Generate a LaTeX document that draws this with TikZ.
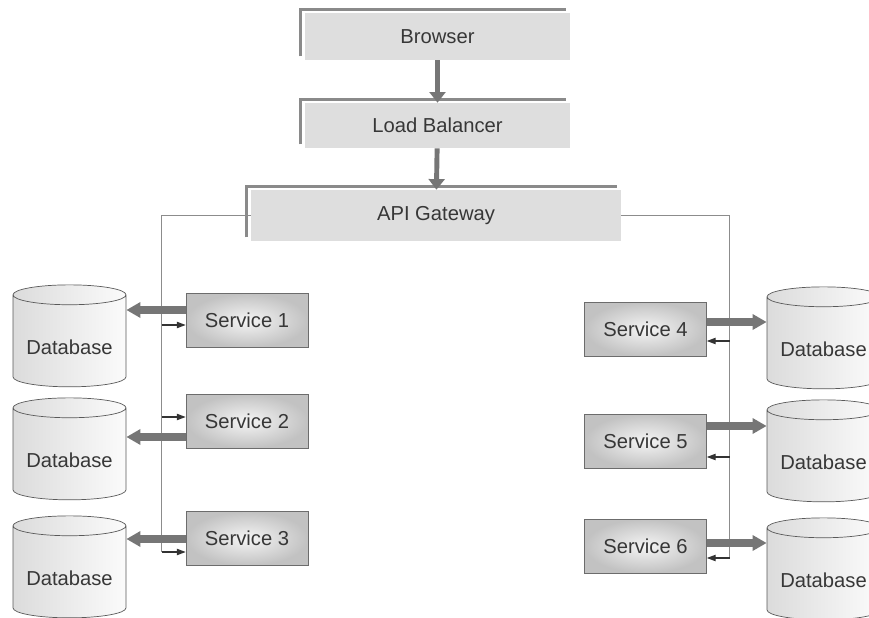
\documentclass[tikz,border=0pt]{standalone}
\usepackage{fontspec}
\setmainfont{Liberation Sans}
\usetikzlibrary{arrows.meta,positioning,shapes.geometric,calc}
\definecolor{panelgray}{RGB}{222,222,222}
\definecolor{rimgray}{RGB}{138,138,138}
\definecolor{pipegray}{RGB}{118,118,118}
\definecolor{inkgray}{RGB}{55,55,55}

\begin{document}
\begin{tikzpicture}[x=0.02cm, y=-0.02cm, font=\fontsize{11.5}{13}\selectfont, text=inkgray,
      panel/.style={fill=panelgray, inner sep=0pt},
      svc/.style={draw=gray!85!black, inner color=gray!8, outer color=gray!48,
                  minimum width=2.44cm, minimum height=1.08cm, inner sep=0pt},
      db/.style={cylinder, shape border rotate=90, aspect=0.23, draw=gray!70!black,
                 left color=gray!28, right color=gray!3, minimum width=2.26cm,
                 minimum height=2.04cm, inner sep=0pt, text height=0.53cm, text depth=0pt},
      down/.style={-{Triangle[length=6pt,width=9pt]}, line width=2.8pt, pipegray},
      fat/.style={-{Triangle[length=8pt,width=8.5pt]}, line width=4pt, pipegray},
      bus/.style={gray!90, line width=0.7pt},
      tap/.style={-{Triangle[length=5pt,width=3.6pt]}, line width=0.6pt, black!80},
      rim/.style={rimgray, line width=1.8pt}]
    \useasboundingbox (0,0) rectangle (869,618);
    \clip (0,0) rectangle (869,618);
    % top chain
    \node[panel, minimum width=5.3cm, minimum height=0.94cm] (browser) at (437.5, 36.5) {Browser};
    \node[panel, minimum width=5.3cm, minimum height=0.9cm] (lb) at (437.5, 125.5) {Load Balancer};
    \node[panel, minimum width=7.4cm, minimum height=1.02cm] (api) at (436, 215.5) {API Gateway};
    \foreach \n in {browser, lb, api}
      \draw[rim] ($(\n.south west)+(-4,-4)$) |- ($(\n.north east)+(-4,-3)$);
    \draw[down] (browser) -- (lb);
    \draw[down] (lb) -- (api);
    % services
    \node[svc] (s1) at (247, 320.5) {Service 1};
    \node[svc] (s2) at (247, 421) {Service 2};
    \node[svc] (s3) at (247, 538.5) {Service 3};
    \node[svc] (s4) at (645.5, 329) {Service 4};
    \node[svc] (s5) at (645.5, 441) {Service 5};
    \node[svc] (s6) at (645.5, 546) {Service 6};
    % databases
    \node[db] (db1) at (69.5, 341) {Database};
    \node[db] (db2) at (69.5, 454) {Database};
    \node[db] (db3) at (69.5, 572) {Database};
    \node[db] (db4) at (823.5, 343) {Database};
    \node[db] (db5) at (823.5, 456) {Database};
    \node[db] (db6) at (823.5, 574) {Database};
    % tap and write points on the service boxes
    \coordinate (t1) at ($(s1.west)+(0,4.5)$);
    \coordinate (t2) at ($(s2.west)+(0,-4)$);
    \coordinate (t3) at ($(s3.west)+(0,13.5)$);
    \coordinate (t4) at ($(s4.east)+(0,12)$);
    \coordinate (t5) at ($(s5.east)+(0,16)$);
    \coordinate (t6) at ($(s6.east)+(0,12)$);
    \coordinate (w1) at ($(s1.west)+(0,-10.5)$);
    \coordinate (w2) at ($(s2.west)+(0,16)$);
    \coordinate (w3) at ($(s3.west)+(0,0.5)$);
    \coordinate (w4) at ($(s4.east)+(0,-7)$);
    \coordinate (w5) at ($(s5.east)+(0,-15)$);
    \coordinate (w6) at ($(s6.east)+(0,-3)$);
    \coordinate (lbus) at ($(t3)+(-24,0)$);
    \coordinate (rbus) at ($(t6)+(23,0)$);
    % bus lines
    \draw[bus] (api.west) -| (lbus);
    \draw[bus] (api.east) -| (rbus);
    \draw[tap] (t1 -| lbus) -- (t1);
    \draw[tap] (t2 -| lbus) -- (t2);
    \draw[tap] (lbus) -- (t3);
    \draw[tap] (t4 -| rbus) -- (t4);
    \draw[tap] (t5 -| rbus) -- (t5);
    \draw[tap] (rbus) -- (t6);
    % storage writes
    \draw[fat] (w1) -- (w1 -| db1.east);
    \draw[fat] (w2) -- (w2 -| db2.east);
    \draw[fat] (w3) -- (w3 -| db3.east);
    \draw[fat] (w4) -- (w4 -| db4.west);
    \draw[fat] (w5) -- (w5 -| db5.west);
    \draw[fat] (w6) -- (w6 -| db6.west);
  \end{tikzpicture}
\end{document}
